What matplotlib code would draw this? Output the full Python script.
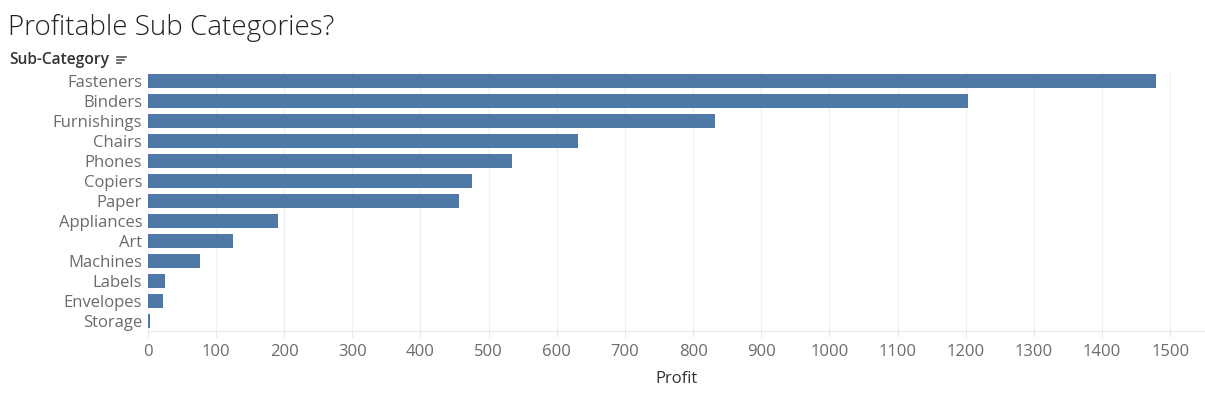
import matplotlib
matplotlib.use('Agg')
import matplotlib.pyplot as plt
from matplotlib.lines import Line2D

categories = ['Fasteners', 'Binders', 'Furnishings', 'Chairs', 'Phones', 'Copiers', 'Paper',
              'Appliances', 'Art', 'Machines', 'Labels', 'Envelopes', 'Storage']
profit = [1479, 1204, 832, 631, 534, 476, 456, 191, 125, 76, 25, 22, 4]
x_ticks = list(range(0, 1600, 100))

plt.rcParams['font.family'] = ['Open Sans', 'DejaVu Sans']

fig = plt.figure(figsize=(12.05, 3.96), dpi=100)
ax = fig.add_axes([0.1226, 0.164, 0.8774, 0.6567])

ax.barh(categories, profit, height=0.7, color='#4e79a7', zorder=3)
ax.set_ylim(len(categories) - 0.5, -0.5)
ax.set_xlim(0, 1551)
ax.set_xticks(x_ticks)
ax.set_xticklabels([str(t) for t in x_ticks])

ax.grid(axis='x', color='#f0f0f0', linewidth=1, zorder=0)
for side in ['top', 'right', 'left']:
    ax.spines[side].set_visible(False)
ax.spines['bottom'].set_color('#e6e6e6')

ax.tick_params(axis='y', length=0, pad=4, labelsize=12, labelcolor='#6b6b6b')
ax.tick_params(axis='x', length=4, color='#e6e6e6', pad=5, labelsize=12, labelcolor='#6b6b6b')
ax.set_xlabel('Profit', fontsize=12, color='#333333', labelpad=8)

fig.text(0.007, 0.93, 'Profitable Sub Categories?', fontsize=20, fontweight='light',
         family=['Open Sans', 'DejaVu Sans'], color='#222222', va='center', ha='left')
fig.text(0.008, 0.848, 'Sub-Category', fontsize=11.2, fontweight='semibold',
         color='#333333', va='center', ha='left')

# sort icon next to the header
x0 = 117 / 1205
for i, w in enumerate([9, 7, 4]):
    y = 1 - (57 + i * 3) / 396
    fig.add_artist(Line2D([x0, x0 + w / 1205], [y, y], color='#555555', linewidth=1.2))

fig.savefig('out.png', dpi=100)
